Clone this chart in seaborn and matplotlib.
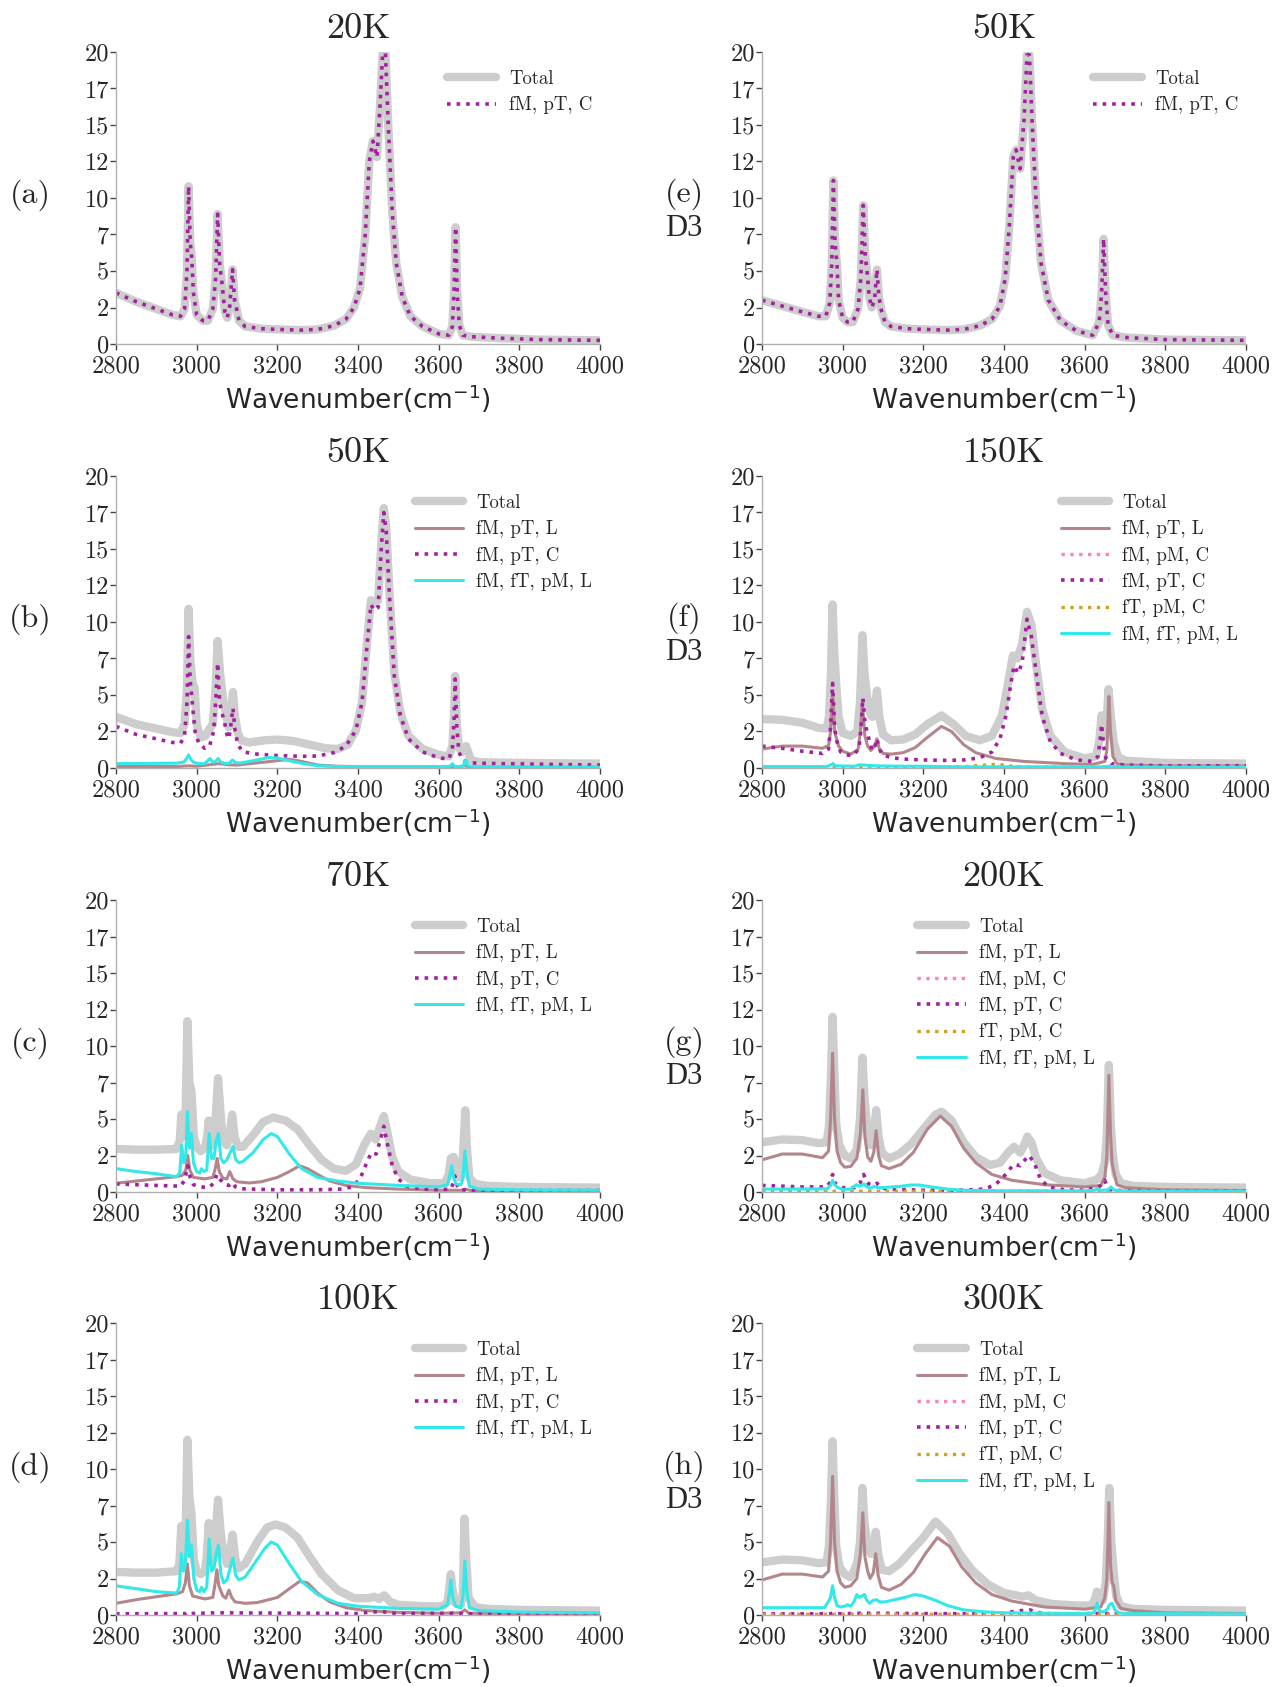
import pandas as pd
import matplotlib
matplotlib.use('Agg')
import matplotlib.pyplot as plt
import seaborn as sns

# Spectra, (wavenumber, intensity) pairs

# (a) 20K
a_total = [(2800, 3.5), (2850, 2.9), (2900, 2.4), (2940, 2.0), (2960, 1.9), (2970, 2.4), (2976, 5.0), (2980, 10.8),
           (2984, 7.0), (2988, 5.8), (2992, 3.5), (3000, 2.0), (3015, 1.6), (3028, 1.6), (3040, 2.4), (3047, 4.5),
           (3052, 8.9), (3057, 5.5), (3063, 4.1), (3070, 2.2), (3076, 1.8), (3082, 2.6), (3089, 5.1), (3094, 3.0),
           (3099, 2.4), (3105, 1.6), (3120, 1.2), (3160, 1.05), (3200, 1.0), (3260, 0.95), (3300, 1.0), (3340, 1.25),
           (3370, 1.7), (3390, 2.5), (3405, 3.8), (3418, 7.5), (3428, 12.5), (3437, 13.9), (3447, 12.8), (3455, 16.5),
           (3461, 19.9), (3468, 19.9), (3475, 15.0), (3485, 9.0), (3495, 5.5), (3510, 3.2), (3530, 1.9), (3560, 1.2),
           (3600, 0.7), (3625, 0.6), (3634, 1.2), (3638, 3.5), (3642, 8.0), (3646, 3.5), (3651, 1.3), (3660, 0.6),
           (3680, 0.5), (3750, 0.4), (3850, 0.3), (4000, 0.25)]
a_fmptc = a_total  # dotted curve lies on the total

# (e) 50K D3
e_total = [(2800, 3.0), (2850, 2.6), (2900, 2.2), (2940, 1.9), (2958, 1.9), (2968, 2.8), (2973, 5.5), (2977, 11.2),
           (2981, 7.0), (2986, 5.4), (2990, 3.0), (3000, 1.8), (3012, 1.5), (3025, 1.5), (3038, 2.4), (3045, 4.5),
           (3051, 9.5), (3056, 6.0), (3061, 4.8), (3066, 3.2), (3072, 2.5), (3079, 3.0), (3085, 5.1), (3090, 3.2),
           (3096, 2.3), (3105, 1.5), (3120, 1.2), (3160, 1.05), (3200, 1.0), (3260, 0.95), (3300, 1.0), (3340, 1.25),
           (3370, 1.7), (3390, 2.6), (3403, 4.5), (3413, 8.0), (3423, 12.8), (3430, 13.3), (3440, 12.0), (3450, 15.5),
           (3457, 19.8), (3463, 19.8), (3470, 15.0), (3480, 9.5), (3492, 5.5), (3510, 3.0), (3540, 1.6), (3580, 0.9),
           (3620, 0.6), (3636, 1.5), (3642, 3.5), (3647, 7.2), (3652, 3.5), (3658, 1.3), (3670, 0.6), (3700, 0.45),
           (3800, 0.3), (4000, 0.25)]
e_fmptc = e_total

# (b) 50K
b_total = [(2800, 3.5), (2850, 3.0), (2900, 2.7), (2940, 2.45), (2960, 2.4), (2970, 3.0), (2976, 5.5), (2980, 10.9),
           (2984, 7.5), (2990, 5.8), (2995, 5.5), (3000, 3.0), (3010, 2.1), (3022, 2.2), (3030, 2.6), (3040, 3.0),
           (3047, 5.5), (3052, 8.7), (3058, 6.5), (3066, 4.6), (3073, 3.6), (3080, 2.8), (3085, 3.8), (3090, 5.2),
           (3095, 3.5), (3102, 2.4), (3110, 1.9), (3130, 1.75), (3170, 1.9), (3200, 1.95), (3240, 1.85), (3280, 1.6),
           (3320, 1.35), (3350, 1.3), (3375, 1.6), (3395, 2.6), (3410, 4.5), (3422, 8.5), (3432, 11.5), (3440, 11.3),
           (3450, 11.5), (3458, 15.5), (3464, 17.8), (3470, 16.5), (3478, 12.0), (3490, 6.5), (3505, 3.8), (3525, 2.2),
           (3560, 1.3), (3600, 0.9), (3625, 0.8), (3634, 1.5), (3638, 3.5), (3641, 6.3), (3645, 3.0), (3650, 1.4),
           (3658, 1.1), (3664, 1.3), (3668, 1.5), (3673, 1.1), (3680, 0.55), (3700, 0.4), (3800, 0.35), (4000, 0.3)]
b_fmptl = [(2800, 0.1), (2950, 0.1), (2980, 0.15), (3000, 0.12), (3040, 0.25), (3055, 0.3), (3080, 0.22), (3100, 0.2),
           (3150, 0.35), (3200, 0.5), (3230, 0.6), (3260, 0.45), (3300, 0.2), (3350, 0.12), (3400, 0.1), (3650, 0.08),
           (3665, 0.15), (3680, 0.06), (4000, 0.05)]
b_fmptc = [(2800, 2.85), (2850, 2.3), (2900, 2.0), (2940, 1.75), (2960, 1.7), (2970, 2.2), (2976, 4.5), (2980, 9.0),
           (2984, 6.0), (2990, 4.2), (2996, 2.5), (3005, 1.7), (3020, 1.35), (3032, 1.5), (3042, 2.5), (3047, 4.5),
           (3052, 7.2), (3057, 4.5), (3062, 3.8), (3068, 3.3), (3075, 2.3), (3080, 2.0), (3085, 3.0), (3090, 4.1),
           (3095, 2.6), (3102, 1.6), (3115, 1.1), (3150, 0.95), (3200, 0.85), (3260, 0.8), (3300, 0.82), (3340, 1.05),
           (3370, 1.5), (3395, 2.6), (3410, 4.5), (3422, 8.3), (3432, 11.2), (3440, 10.8), (3450, 11.0), (3458, 15.2),
           (3464, 17.5), (3470, 16.2), (3478, 11.8), (3490, 6.3), (3505, 3.6), (3525, 2.0), (3560, 1.1), (3600, 0.7),
           (3625, 0.6), (3634, 1.3), (3638, 3.2), (3641, 6.1), (3645, 2.8), (3650, 1.1), (3660, 0.5), (3680, 0.35),
           (3750, 0.3), (4000, 0.2)]
b_cyan = [(2800, 0.3), (2950, 0.33), (2968, 0.4), (2975, 0.65), (2980, 0.9), (2985, 0.6), (2992, 0.4), (3005, 0.3),
          (3020, 0.3), (3033, 0.65), (3040, 0.4), (3047, 0.45), (3053, 0.65), (3060, 0.4), (3070, 0.32), (3080, 0.32),
          (3089, 0.55), (3097, 0.35), (3110, 0.35), (3150, 0.55), (3180, 0.72), (3200, 0.68), (3230, 0.5), (3260, 0.32),
          (3300, 0.15), (3350, 0.1), (3600, 0.1), (3628, 0.12), (3634, 0.3), (3640, 0.1), (3660, 0.12), (3667, 0.55),
          (3673, 0.15), (3700, 0.06), (4000, 0.05)]

# (f) 150K D3
f_total = [(2800, 3.35), (2850, 3.3), (2900, 3.1), (2940, 2.75), (2960, 2.7), (2966, 3.5), (2971, 6.5), (2975, 11.2),
           (2979, 8.0), (2984, 5.75), (2990, 3.5), (3000, 2.4), (3020, 2.2), (3036, 2.5), (3043, 4.5), (3049, 9.1),
           (3054, 6.5), (3061, 4.8), (3067, 3.8), (3073, 3.5), (3079, 4.0), (3085, 5.3), (3091, 3.5), (3100, 2.3),
           (3120, 1.9), (3150, 1.95), (3180, 2.3), (3210, 3.0), (3245, 3.6), (3275, 3.0), (3305, 2.2), (3340, 1.9),
           (3370, 2.2), (3395, 3.6), (3410, 5.8), (3422, 7.7), (3433, 7.5), (3445, 8.5), (3457, 10.7), (3468, 9.8),
           (3480, 7.0), (3495, 4.0), (3515, 2.2), (3550, 1.1), (3600, 0.65), (3628, 0.8), (3636, 1.8), (3642, 3.6),
           (3648, 2.2), (3653, 2.4), (3659, 5.4), (3665, 3.5), (3672, 1.8), (3682, 0.8), (3700, 0.5), (3800, 0.35),
           (4000, 0.3)]
f_fmptl = [(2800, 1.3), (2850, 1.5), (2900, 1.5), (2950, 1.35), (2965, 1.55), (2970, 2.5), (2975, 5.2), (2980, 2.5),
           (2990, 1.5), (3000, 1.15), (3020, 0.95), (3038, 1.25), (3044, 2.5), (3049, 4.5), (3055, 2.2), (3062, 1.5),
           (3070, 1.2), (3079, 1.5), (3085, 2.0), (3091, 1.3), (3100, 1.0), (3120, 0.95), (3150, 1.05), (3180, 1.4),
           (3210, 2.1), (3245, 2.85), (3270, 2.5), (3300, 1.6), (3330, 1.05), (3380, 0.65), (3450, 0.45), (3550, 0.3),
           (3620, 0.25), (3650, 0.45), (3655, 1.2), (3660, 4.9), (3664, 2.5), (3670, 0.8), (3680, 0.3), (3700, 0.2),
           (3800, 0.15), (4000, 0.15)]
f_fmpmc = [(2800, 0.05), (3000, 0.05), (3400, 0.06), (3600, 0.05), (4000, 0.05)]
f_fmptc = [(2800, 1.5), (2850, 1.35), (2900, 1.15), (2950, 1.0), (2965, 1.3), (2970, 2.8), (2975, 5.8), (2980, 2.8),
           (2986, 1.8), (2995, 1.1), (3010, 0.9), (3025, 0.85), (3040, 1.3), (3045, 2.5), (3050, 4.8), (3055, 3.2),
           (3060, 2.5), (3066, 1.9), (3073, 1.2), (3080, 1.5), (3085, 2.0), (3090, 1.4), (3097, 0.95), (3120, 0.7),
           (3160, 0.6), (3200, 0.55), (3260, 0.52), (3300, 0.55), (3340, 0.7), (3370, 1.1), (3390, 2.0), (3405, 3.6),
           (3417, 5.8), (3425, 7.0), (3435, 6.5), (3445, 7.2), (3457, 10.2), (3468, 9.0), (3480, 6.5), (3495, 3.5),
           (3515, 1.8), (3540, 1.0), (3580, 0.55), (3620, 0.45), (3633, 0.8), (3638, 1.8), (3642, 3.0), (3647, 1.5),
           (3652, 0.7), (3665, 0.3), (3700, 0.2), (3800, 0.15), (4000, 0.15)]
f_ftpmc = [(2800, 0.03), (3250, 0.04), (3300, 0.08), (3340, 0.18), (3375, 0.25), (3400, 0.2), (3430, 0.08),
           (3470, 0.04), (4000, 0.03)]
f_cyan = [(2800, 0.1), (2960, 0.1), (2970, 0.2), (2976, 0.3), (2982, 0.15), (3030, 0.12), (3040, 0.22), (3055, 0.2),
          (3080, 0.15), (3150, 0.12), (3200, 0.12), (3300, 0.08), (3640, 0.08), (3660, 0.12), (3700, 0.06), (4000, 0.05)]

# (c) 70K
c_total = [(2800, 2.95), (2850, 2.9), (2900, 2.9), (2950, 2.95), (2958, 3.5), (2962, 5.3), (2967, 3.8), (2972, 4.5),
           (2977, 11.7), (2982, 7.5), (2987, 6.9), (2993, 3.8), (3000, 3.1), (3010, 2.8), (3020, 3.0), (3026, 3.8),
           (3030, 4.9), (3035, 3.6), (3042, 3.2), (3048, 5.5), (3053, 7.8), (3059, 5.5), (3065, 3.5), (3075, 3.2),
           (3082, 4.0), (3088, 5.3), (3094, 3.8), (3102, 3.1), (3115, 3.1), (3140, 3.9), (3165, 4.8), (3190, 5.1),
           (3220, 4.9), (3250, 4.3), (3280, 3.2), (3310, 2.2), (3340, 1.6), (3370, 1.45), (3395, 1.9), (3415, 3.2),
           (3432, 4.0), (3444, 3.6), (3456, 4.6), (3464, 5.2), (3472, 4.2), (3485, 2.4), (3500, 1.4), (3530, 0.85),
           (3580, 0.6), (3615, 0.6), (3625, 1.2), (3630, 2.3), (3637, 2.4), (3642, 2.0), (3650, 1.0), (3658, 1.2),
           (3662, 3.5), (3666, 5.6), (3670, 3.0), (3676, 1.0), (3690, 0.55), (3720, 0.42), (3800, 0.35), (4000, 0.3)]
c_fmptl = [(2800, 0.6), (2850, 0.75), (2900, 0.9), (2950, 1.05), (2965, 1.15), (2973, 1.5), (2978, 2.5), (2983, 1.5),
           (2992, 1.0), (3020, 0.9), (3040, 1.0), (3046, 1.6), (3051, 2.3), (3056, 1.4), (3065, 0.95), (3075, 0.9),
           (3082, 1.4), (3090, 0.9), (3100, 0.7), (3130, 0.62), (3160, 0.7), (3200, 1.0), (3230, 1.4), (3255, 1.8),
           (3275, 1.6), (3300, 1.2), (3330, 0.75), (3370, 0.45), (3420, 0.3), (3500, 0.2), (3600, 0.12), (3660, 0.12),
           (3666, 0.2), (3680, 0.1), (4000, 0.08)]
c_fmptc = [(2800, 0.55), (2850, 0.5), (2900, 0.45), (2960, 0.4), (2970, 0.8), (2978, 1.8), (2984, 1.0), (2992, 0.5),
           (3010, 0.35), (3030, 0.3), (3042, 0.6), (3050, 1.2), (3056, 0.9), (3062, 0.75), (3070, 0.5), (3080, 0.45),
           (3088, 0.65), (3096, 0.35), (3110, 0.22), (3200, 0.15), (3300, 0.15), (3360, 0.2), (3385, 0.35), (3405, 0.9),
           (3420, 1.9), (3433, 2.7), (3445, 2.6), (3456, 3.6), (3464, 4.5), (3472, 3.4), (3485, 1.8), (3500, 0.9),
           (3520, 0.4), (3560, 0.2), (3600, 0.15), (3630, 0.2), (3636, 0.6), (3640, 1.1), (3645, 0.5), (3652, 0.15),
           (3700, 0.1), (4000, 0.1)]
c_cyan = [(2800, 1.6), (2850, 1.4), (2900, 1.25), (2950, 1.05), (2958, 1.3), (2963, 3.2), (2968, 2.0), (2973, 2.5),
          (2977, 5.5), (2982, 3.0), (2987, 4.0), (2992, 2.0), (3000, 1.4), (3008, 1.3), (3012, 1.6), (3018, 1.4),
          (3025, 1.5), (3031, 4.0), (3037, 2.3), (3043, 2.3), (3048, 3.5), (3054, 4.0), (3060, 2.3), (3067, 2.0),
          (3075, 2.2), (3083, 2.7), (3090, 3.1), (3097, 2.2), (3105, 2.0), (3115, 2.1), (3140, 2.7), (3165, 3.6),
          (3185, 4.0), (3200, 3.8), (3230, 2.6), (3260, 1.6), (3300, 1.0), (3350, 0.75), (3400, 0.6), (3500, 0.45),
          (3600, 0.35), (3622, 0.5), (3628, 1.2), (3632, 1.8), (3637, 1.0), (3643, 0.55), (3655, 0.5), (3660, 0.9),
          (3665, 2.8), (3670, 1.4), (3676, 0.4), (3700, 0.2), (3800, 0.15), (4000, 0.12)]

# (g) 200K D3
g_total = [(2800, 3.4), (2850, 3.6), (2900, 3.55), (2940, 3.35), (2960, 3.4), (2966, 4.5), (2971, 8.0), (2975, 12.0),
           (2979, 8.5), (2984, 4.6), (2992, 3.2), (3005, 2.5), (3020, 2.3), (3035, 2.9), (3043, 5.0), (3049, 9.2),
           (3054, 6.5), (3061, 4.3), (3069, 3.2), (3077, 3.9), (3083, 5.6), (3089, 3.8), (3097, 2.7), (3115, 2.3),
           (3140, 2.6), (3170, 3.3), (3200, 4.3), (3230, 5.3), (3245, 5.5), (3270, 4.9), (3300, 3.4), (3330, 2.4),
           (3365, 1.85), (3390, 2.0), (3410, 2.7), (3425, 3.1), (3440, 2.7), (3450, 3.2), (3458, 3.8), (3468, 3.4),
           (3480, 2.3), (3500, 1.3), (3540, 0.8), (3600, 0.6), (3630, 0.85), (3642, 1.2), (3650, 2.0), (3655, 4.0),
           (3660, 8.7), (3665, 4.5), (3670, 2.5), (3677, 1.2), (3690, 0.6), (3720, 0.42), (3800, 0.35), (4000, 0.3)]
g_fmptl = [(2800, 2.2), (2850, 2.6), (2900, 2.6), (2950, 2.35), (2965, 2.8), (2970, 5.0), (2975, 9.5), (2980, 5.0),
           (2986, 2.8), (2995, 2.0), (3005, 1.7), (3020, 1.75), (3035, 2.3), (3044, 4.0), (3050, 7.0), (3055, 3.8),
           (3062, 2.4), (3070, 2.1), (3077, 2.7), (3083, 4.2), (3089, 2.5), (3096, 1.8), (3115, 1.6), (3145, 1.9),
           (3175, 2.7), (3210, 4.3), (3242, 5.2), (3270, 4.5), (3300, 3.0), (3330, 2.0), (3370, 1.2), (3420, 0.8),
           (3500, 0.5), (3600, 0.35), (3640, 0.45), (3650, 1.0), (3655, 2.5), (3660, 8.0), (3664, 4.0), (3668, 2.0),
           (3673, 1.3), (3680, 0.5), (3700, 0.3), (3800, 0.15), (4000, 0.1)]
g_fmpmc = [(2800, 0.04), (3000, 0.05), (3200, 0.04), (3450, 0.05), (4000, 0.03)]
g_fmptc = [(2800, 0.45), (2850, 0.4), (2900, 0.35), (2960, 0.35), (2970, 0.7), (2975, 1.2), (2981, 0.6), (2990, 0.45),
           (3000, 0.3), (3030, 0.3), (3043, 0.6), (3052, 1.2), (3058, 0.75), (3065, 0.55), (3075, 0.45), (3085, 0.6),
           (3095, 0.3), (3110, 0.2), (3200, 0.12), (3300, 0.13), (3350, 0.2), (3375, 0.45), (3395, 0.9), (3412, 1.5),
           (3425, 1.9), (3440, 1.8), (3452, 2.2), (3462, 2.5), (3475, 2.0), (3490, 0.9), (3510, 0.35), (3550, 0.15),
           (3600, 0.12), (3635, 0.35), (3645, 0.55), (3650, 0.8), (3655, 0.4), (3665, 0.15), (3700, 0.08), (4000, 0.05)]
g_ftpmc = [(2800, 0.03), (3300, 0.04), (3400, 0.05), (4000, 0.03)]
g_cyan = [(2800, 0.2), (2900, 0.2), (2962, 0.22), (2970, 0.45), (2975, 0.8), (2980, 0.5), (2988, 0.3), (3000, 0.18),
          (3020, 0.2), (3034, 0.5), (3040, 0.4), (3046, 0.45), (3053, 0.55), (3060, 0.35), (3068, 0.25), (3078, 0.38),
          (3088, 0.3), (3100, 0.3), (3140, 0.38), (3170, 0.48), (3190, 0.48), (3220, 0.35), (3260, 0.2), (3300, 0.12),
          (3400, 0.08), (3600, 0.08), (3625, 0.12), (3632, 0.25), (3640, 0.1), (3658, 0.15), (3665, 0.35), (3672, 0.15),
          (3700, 0.06), (4000, 0.05)]

# (d) 100K
d_total = [(2800, 2.95), (2850, 2.9), (2900, 2.9), (2950, 3.0), (2957, 3.5), (2962, 6.1), (2967, 4.0), (2972, 4.5),
           (2977, 12.0), (2982, 8.0), (2987, 7.0), (2993, 3.8), (3000, 3.0), (3010, 2.8), (3020, 3.0), (3025, 4.0),
           (3030, 6.3), (3035, 4.2), (3042, 3.8), (3048, 6.0), (3053, 7.9), (3059, 5.8), (3065, 4.5), (3075, 3.5),
           (3082, 4.2), (3089, 5.5), (3096, 3.8), (3105, 3.2), (3120, 3.5), (3150, 5.0), (3175, 6.0), (3195, 6.2),
           (3220, 6.0), (3250, 5.3), (3280, 4.0), (3310, 2.8), (3350, 1.7), (3390, 1.15), (3425, 1.15), (3440, 1.25),
           (3452, 1.1), (3465, 1.35), (3480, 0.9), (3500, 0.7), (3560, 0.6), (3610, 0.6), (3622, 0.9), (3627, 2.0),
           (3630, 2.8), (3634, 1.8), (3640, 0.85), (3655, 0.7), (3660, 1.5), (3664, 6.6), (3668, 4.0), (3674, 1.2),
           (3690, 0.55), (3720, 0.42), (3800, 0.35), (4000, 0.3)]
d_fmptl = [(2800, 0.8), (2850, 1.05), (2900, 1.25), (2950, 1.45), (2965, 1.6), (2972, 2.2), (2977, 3.5), (2982, 2.0),
           (2990, 1.3), (3020, 1.1), (3040, 1.2), (3046, 2.2), (3050, 3.1), (3055, 2.0), (3065, 1.3), (3072, 1.15),
           (3080, 1.7), (3087, 1.2), (3095, 0.9), (3120, 0.8), (3150, 0.85), (3200, 1.2), (3230, 1.8), (3255, 2.3),
           (3275, 2.2), (3300, 1.5), (3330, 0.9), (3370, 0.5), (3420, 0.3), (3500, 0.18), (3600, 0.12), (3655, 0.15),
           (3665, 0.35), (3675, 0.12), (4000, 0.08)]
d_fmptc = [(2800, 0.08), (2975, 0.1), (2980, 0.2), (2985, 0.1), (3050, 0.15), (3400, 0.1), (3430, 0.2), (3445, 0.22),
           (3460, 0.25), (3475, 0.15), (3500, 0.1), (3640, 0.12), (3700, 0.06), (4000, 0.06)]
d_cyan = [(2800, 2.0), (2850, 1.8), (2900, 1.6), (2950, 1.5), (2957, 1.9), (2962, 4.2), (2967, 3.0), (2972, 3.5),
          (2977, 6.5), (2982, 4.0), (2987, 4.8), (2993, 2.5), (3000, 1.7), (3008, 1.6), (3012, 1.9), (3018, 1.6),
          (3025, 1.9), (3031, 5.2), (3037, 3.0), (3043, 3.2), (3048, 4.2), (3054, 4.8), (3060, 2.8), (3067, 2.2),
          (3075, 2.4), (3083, 3.2), (3090, 3.9), (3097, 2.7), (3105, 2.4), (3120, 2.6), (3150, 3.8), (3170, 4.6),
          (3185, 5.0), (3200, 4.8), (3230, 3.5), (3260, 2.3), (3300, 1.4), (3350, 0.8), (3400, 0.6), (3500, 0.45),
          (3600, 0.4), (3622, 0.7), (3627, 1.6), (3630, 2.4), (3635, 1.2), (3642, 0.6), (3655, 0.5), (3660, 1.2),
          (3665, 3.7), (3670, 1.6), (3676, 0.5), (3700, 0.3), (3800, 0.2), (4000, 0.15)]

# (h) 300K D3
h_total = [(2800, 3.6), (2850, 3.8), (2900, 3.75), (2940, 3.55), (2960, 3.6), (2966, 4.7), (2971, 8.0), (2975, 11.9),
           (2979, 8.2), (2984, 4.7), (2992, 3.3), (3005, 2.8), (3018, 2.6), (3028, 3.0), (3036, 3.6), (3043, 5.0),
           (3049, 8.7), (3054, 6.3), (3061, 5.0), (3069, 4.2), (3076, 4.2), (3082, 5.7), (3089, 4.0), (3097, 3.1),
           (3115, 3.0), (3140, 3.5), (3170, 4.4), (3200, 5.3), (3230, 6.4), (3260, 5.6), (3290, 4.2), (3320, 3.1),
           (3360, 2.1), (3400, 1.5), (3430, 1.35), (3445, 1.25), (3460, 1.35), (3480, 1.0), (3520, 0.75), (3580, 0.65),
           (3615, 0.65), (3625, 1.0), (3630, 1.6), (3636, 1.1), (3645, 1.0), (3652, 2.2), (3657, 5.0), (3661, 8.7),
           (3666, 5.0), (3672, 3.0), (3678, 1.3), (3690, 0.6), (3720, 0.42), (3800, 0.35), (4000, 0.3)]
h_fmptl = [(2800, 2.4), (2850, 2.8), (2900, 2.8), (2950, 2.6), (2965, 3.0), (2970, 5.0), (2975, 9.5), (2980, 5.0),
           (2986, 3.0), (2995, 2.2), (3005, 1.9), (3020, 2.0), (3035, 2.5), (3044, 4.2), (3050, 7.0), (3055, 4.0),
           (3062, 3.0), (3068, 2.5), (3076, 2.9), (3082, 4.2), (3088, 2.7), (3096, 1.9), (3115, 1.7), (3145, 2.1),
           (3175, 2.9), (3205, 4.2), (3235, 5.3), (3265, 4.7), (3295, 3.3), (3330, 2.2), (3370, 1.4), (3420, 0.95),
           (3500, 0.55), (3600, 0.4), (3640, 0.55), (3650, 1.2), (3655, 2.5), (3660, 7.7), (3664, 3.5), (3668, 2.2),
           (3672, 2.0), (3677, 1.0), (3690, 0.45), (3720, 0.3), (3800, 0.15), (4000, 0.1)]
h_fmpmc = [(2800, 0.04), (3000, 0.05), (3200, 0.04), (3450, 0.05), (4000, 0.03)]
h_fmptc = [(2800, 0.08), (2970, 0.08), (2976, 0.15), (2982, 0.08), (3050, 0.12), (3300, 0.08), (3400, 0.1),
           (3425, 0.25), (3440, 0.3), (3455, 0.3), (3465, 0.35), (3480, 0.15), (3520, 0.08), (3645, 0.1), (3700, 0.06),
           (4000, 0.05)]
h_ftpmc = [(2800, 0.03), (3300, 0.04), (3400, 0.05), (4000, 0.03)]
h_cyan = [(2800, 0.5), (2900, 0.5), (2955, 0.5), (2964, 0.9), (2970, 1.2), (2975, 2.0), (2980, 1.2), (2986, 0.65),
          (2995, 0.55), (3005, 0.6), (3012, 0.7), (3020, 0.6), (3028, 0.9), (3035, 1.4), (3041, 1.2), (3047, 1.3),
          (3054, 1.4), (3060, 1.0), (3067, 0.8), (3075, 1.0), (3083, 1.05), (3092, 0.9), (3105, 0.9), (3130, 1.05),
          (3160, 1.25), (3180, 1.4), (3200, 1.3), (3230, 1.0), (3260, 0.65), (3300, 0.35), (3350, 0.22), (3400, 0.15),
          (3500, 0.12), (3600, 0.1), (3622, 0.15), (3628, 0.5), (3631, 0.8), (3636, 0.3), (3645, 0.2), (3655, 0.35),
          (3663, 0.75), (3668, 0.8), (3675, 0.35), (3685, 0.15), (3700, 0.1), (4000, 0.08)]

Y_TICKS = [0, 2.5, 5, 7.5, 10, 12.5, 15, 17.5, 20]
Y_TICK_LABELS = ['0', '2', '5', '7', '10', '12', '15', '17', '20']
X_TICKS = [2800, 3000, 3200, 3400, 3600, 3800, 4000]

STYLES = {
    'Total': dict(color='#cdcdcd', lw=6, ls='-'),
    'fM, pT, L': dict(color='#b3868c', lw=2.2, ls='-'),
    'fM, pM, C': dict(color='#ff7fc6', lw=2.4, ls=':'),
    'fM, pT, C': dict(color='#a3219f', lw=2.6, ls=':'),
    'fT, pM, C': dict(color='#d4a21e', lw=2.4, ls=':'),
    'fM, fT, pM, L': dict(color='#33e8e8', lw=2.2, ls='-'),
}

# panel: (label, title, column, row, series, legend anchor)
PANELS = [
    ('(a)', '20K', 0, 0, {'Total': a_total, 'fM, pT, C': a_fmptc}, 'right'),
    ('(b)', '50K', 0, 1, {'Total': b_total, 'fM, pT, L': b_fmptl, 'fM, pT, C': b_fmptc,
                          'fM, fT, pM, L': b_cyan}, 'right'),
    ('(c)', '70K', 0, 2, {'Total': c_total, 'fM, pT, L': c_fmptl, 'fM, pT, C': c_fmptc,
                          'fM, fT, pM, L': c_cyan}, 'right'),
    ('(d)', '100K', 0, 3, {'Total': d_total, 'fM, pT, L': d_fmptl, 'fM, pT, C': d_fmptc,
                           'fM, fT, pM, L': d_cyan}, 'right'),
    ('(e)', '50K', 1, 0, {'Total': e_total, 'fM, pT, C': e_fmptc}, 'right'),
    ('(f)', '150K', 1, 1, {'Total': f_total, 'fM, pT, L': f_fmptl, 'fM, pM, C': f_fmpmc, 'fM, pT, C': f_fmptc,
                           'fT, pM, C': f_ftpmc, 'fM, fT, pM, L': f_cyan}, 'right'),
    ('(g)', '200K', 1, 2, {'Total': g_total, 'fM, pT, L': g_fmptl, 'fM, pM, C': g_fmpmc, 'fM, pT, C': g_fmptc,
                           'fT, pM, C': g_ftpmc, 'fM, fT, pM, L': g_cyan}, 'mid'),
    ('(h)', '300K', 1, 3, {'Total': h_total, 'fM, pT, L': h_fmptl, 'fM, pM, C': h_fmpmc, 'fM, pT, C': h_fmptc,
                           'fT, pM, C': h_ftpmc, 'fM, fT, pM, L': h_cyan}, 'mid'),
]

sns.set_theme(style='ticks')
plt.rcParams['font.family'] = ['cmr10', 'DejaVu Serif']
plt.rcParams['axes.formatter.use_mathtext'] = True
plt.rcParams['mathtext.fontset'] = 'dejavusans'

W, H = 1275, 1687
fig = plt.figure(figsize=(W / 100, H / 100), dpi=100)

COL_LEFT = [116, 762]
AX_W = 484
ROW_TOP = [52, 476, 900, 1323]
AX_H = 292

for label, title, col, row, series, leg_pos in PANELS:
    ax = fig.add_axes([COL_LEFT[col] / W, 1 - (ROW_TOP[row] + AX_H) / H, AX_W / W, AX_H / H])
    handles = []
    for name, pts in series.items():
        df = pd.DataFrame(pts, columns=['x', 'y'])
        st = STYLES[name]
        sns.lineplot(data=df, x='x', y='y', ax=ax, sort=False, estimator=None,
                     color=st['color'], linewidth=st['lw'], linestyle=st['ls'], label=name)
        handles.append(ax.lines[-1])
    ax.set_xlim(2800, 4000)
    ax.set_ylim(0, 20)
    ax.set_xticks(X_TICKS)
    ax.set_xticklabels([str(t) for t in X_TICKS])
    ax.set_yticks(Y_TICKS)
    ax.set_yticklabels(Y_TICK_LABELS)
    ax.tick_params(labelsize=17.5, length=4, width=1, color='#444444')
    ax.tick_params(axis='y', pad=1)
    ax.tick_params(axis='x', pad=4)
    sns.despine(ax=ax)
    for sp in ['left', 'bottom']:
        ax.spines[sp].set_color('#b0b0b0')
        ax.spines[sp].set_linewidth(1.0)
    ax.set_ylabel('')
    ax.set_xlabel('Wavenumber(cm$^{-1}$)', fontsize=19, fontfamily='DejaVu Sans', labelpad=4)
    ax.set_title(title, fontsize=26, pad=10)
    leg_kw = dict(handles=handles, frameon=False, fontsize=13.5, handlelength=2.6, handletextpad=0.7,
                  labelspacing=0.45, borderaxespad=0)
    if leg_pos == 'right':
        ax.legend(loc='upper right', bbox_to_anchor=(1.0, 0.965), **leg_kw)
    else:
        ax.legend(loc='upper left', bbox_to_anchor=(0.305, 0.965), **leg_kw)

    # panel letters to the left of each axis
    yc = 1 - (195 + 424 * row) / H
    if col == 0:
        fig.text(30 / W, yc, label, fontsize=23, ha='center', va='center')
    else:
        fig.text(684 / W, yc + 0.0005, label, fontsize=23, ha='center', va='center')
        fig.text(684 / W, yc - 0.020, 'D3', fontsize=22, ha='center', va='center',
                 fontfamily='Liberation Serif')

fig.savefig('out.png', dpi=100)
